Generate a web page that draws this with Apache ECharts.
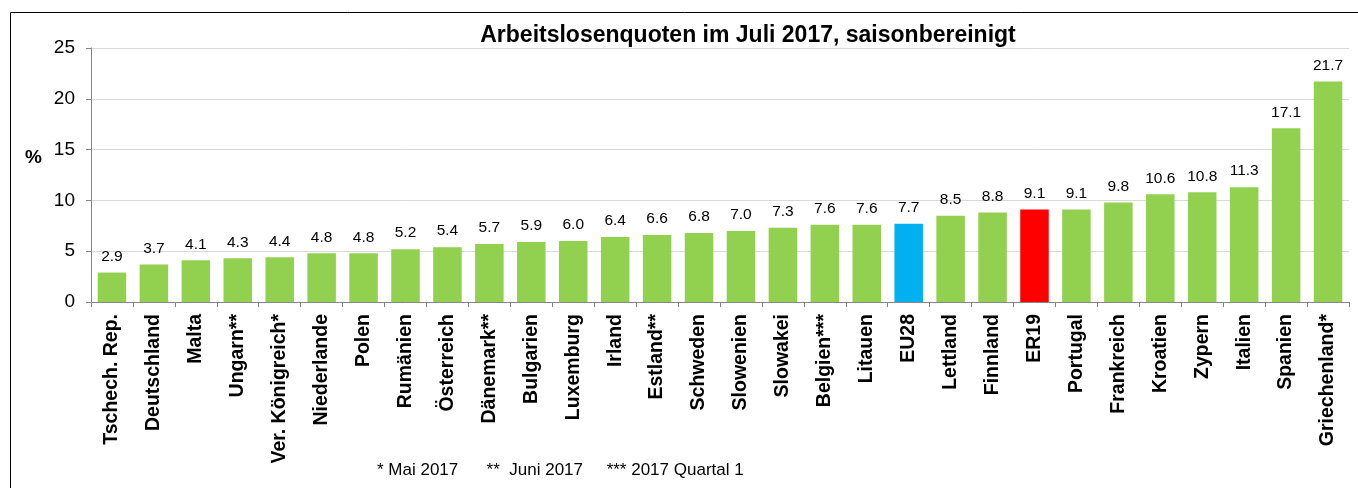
<!DOCTYPE html>
<html>
<head>
<meta charset="utf-8">
<script src="https://cdn.jsdelivr.net/npm/echarts@6/dist/echarts.min.js"></script>
<style>
  html, body { margin: 0; padding: 0; background: #fff; }
  #chart { width: 1358px; height: 488px; }
</style>
</head>
<body>
<div id="chart"></div>
<script>
let countries = ['Tschech. Rep.', 'Deutschland', 'Malta', 'Ungarn**', 'Ver. Königreich*', 'Niederlande', 'Polen',
  'Rumänien', 'Österreich', 'Dänemark**', 'Bulgarien', 'Luxemburg', 'Irland', 'Estland**', 'Schweden', 'Slowenien',
  'Slowakei', 'Belgien***', 'Litauen', 'EU28', 'Lettland', 'Finnland', 'ER19', 'Portugal', 'Frankreich', 'Kroatien',
  'Zypern', 'Italien', 'Spanien', 'Griechenland*'];
let rates = [2.9, 3.7, 4.1, 4.3, 4.4, 4.8, 4.8, 5.2, 5.4, 5.7, 5.9, 6.0, 6.4, 6.6, 6.8, 7.0, 7.3, 7.6, 7.6, 7.7,
  8.5, 8.8, 9.1, 9.1, 9.8, 10.6, 10.8, 11.3, 17.1, 21.7];
let yTicks = [0, 5, 10, 15, 20, 25];

let COLORS = { EU28: '#00B0F0', ER19: '#FF0000' };
let DEFAULT_COLOR = '#92D050';
let FONT = 'Liberation Sans, Arial, sans-serif';

let chart = echarts.init(document.getElementById('chart'));

let option = {
  animation: false,
  title: {
    text: 'Arbeitslosenquoten im Juli 2017, saisonbereinigt',
    left: 743, top: 19, textAlign: 'center',
    textStyle: { fontFamily: FONT, fontSize: 23, fontWeight: 'bold', color: '#000' }
  },
  grid: { left: 91, right: 9, top: 48, bottom: 186 },
  xAxis: {
    type: 'category',
    data: countries,
    axisLine: { lineStyle: { color: '#868686' } },
    axisTick: { show: true, alignWithLabel: false, length: 5, lineStyle: { color: '#868686' } },
    axisLabel: {
      interval: 0, rotate: 90, margin: 12,
      fontFamily: FONT, fontSize: 19.5, fontWeight: 'bold', color: '#000'
    }
  },
  yAxis: {
    type: 'value',
    min: yTicks[0], max: yTicks[yTicks.length - 1], interval: 5,
    axisLine: { show: true, lineStyle: { color: '#868686' } },
    axisTick: { show: true, length: 5, lineStyle: { color: '#868686' } },
    axisLabel: { fontFamily: FONT, fontSize: 19, color: '#000', margin: 16 },
    splitLine: { lineStyle: { color: '#D9D9D9' } }
  },
  series: [{
    type: 'bar',
    data: rates,
    barCategoryGap: '32%',
    itemStyle: { color: p => COLORS[countries[p.dataIndex]] || DEFAULT_COLOR },
    label: {
      show: true, position: 'top', distance: 8,
      formatter: p => p.value.toFixed(1),
      fontFamily: FONT, fontSize: 15.5, color: '#000'
    }
  }],
  graphic: [
    {
      type: 'rect', silent: true,
      shape: { x: 10.5, y: 12.5, width: 1400, height: 520 },
      style: { fill: 'none', stroke: '#000', lineWidth: 1 }
    },
    {
      // y axis unit
      type: 'text', left: 25, top: 148,
      style: { text: '%', fontFamily: FONT, fontSize: 19, fontWeight: 'bold', fill: '#000' }
    },
    {
      type: 'text', left: 377, top: 462,
      style: {
        text: '* Mai 2017      **  Juni 2017     *** 2017 Quartal 1',
        fontFamily: FONT, fontSize: 17, fill: '#000'
      }
    }
  ]
};

chart.setOption(option);
</script>
</body>
</html>
